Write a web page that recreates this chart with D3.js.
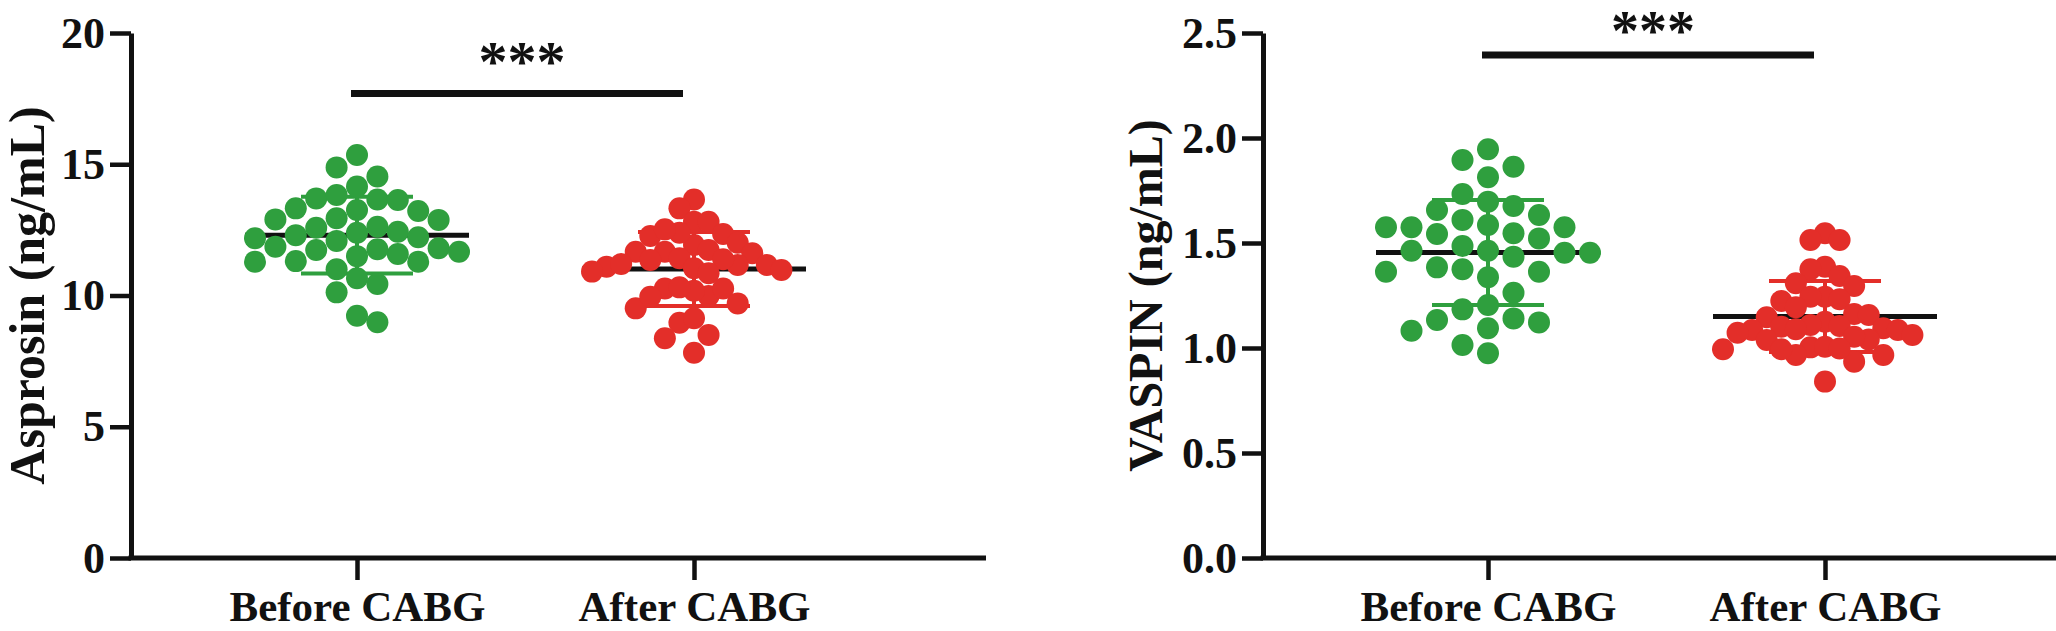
<!DOCTYPE html>
<html>
<head>
<meta charset="utf-8">
<script src="https://cdn.jsdelivr.net/npm/d3@7"></script>
<style>
  html, body { margin: 0; padding: 0; background: #ffffff; }
  svg { display: block; }
  text { font-family: "Liberation Serif", "Times New Roman", serif; font-weight: bold; fill: #111; }
</style>
</head>
<body>
<svg id="chart" width="2056" height="631"></svg>
<script>
// ---------------- data ----------------
const groups = ["Before CABG", "After CABG"];

const asprosinBefore = [15.35, 14.88, 14.53, 14.15, 13.70, 13.83, 13.66, 13.64, 13.32, 13.26,
  13.22, 12.90, 12.94, 12.88, 12.58, 12.62, 12.39, 12.43, 12.30, 12.22,
  12.18, 12.08, 11.86, 11.50, 11.58, 11.76, 11.80, 11.73, 11.67, 11.29,
  11.29, 11.31, 11.00, 10.66, 10.44, 10.12, 8.98, 9.23];
const asprosinAfter = [13.66, 13.32, 12.81, 12.81, 12.34, 12.01, 12.27, 11.92, 12.39, 12.52,
  11.61, 11.67, 11.67, 11.42, 11.16, 11.73, 11.38, 11.10, 11.20, 10.91,
  11.04, 11.35, 10.85, 11.16, 10.97, 10.27, 9.98, 10.27, 10.18, 10.31,
  9.51, 9.70, 9.95, 8.96, 9.13, 8.50, 8.37, 7.82];
const vaspinBefore = [1.946, 1.895, 1.863, 1.813, 1.733, 1.697, 1.676, 1.633, 1.657, 1.575,
  1.610, 1.575, 1.586, 1.543, 1.575, 1.522, 1.546, 1.463, 1.435, 1.454,
  1.486, 1.454, 1.463, 1.384, 1.337, 1.363, 1.363, 1.375, 1.263, 1.184,
  1.141, 1.205, 1.082, 1.133, 1.122, 1.094, 0.975, 1.014];
const vaspinAfter = [1.546, 1.514, 1.514, 1.387, 1.375, 1.343, 1.308, 1.295, 1.224, 1.244,
  1.244, 1.232, 1.194, 1.162, 1.157, 1.125, 1.146, 1.110, 1.086, 1.101,
  1.105, 1.073, 1.094, 1.089, 1.086, 1.062, 1.041, 1.003, 1.038, 1.054,
  0.967, 1.006, 0.935, 0.967, 0.994, 0.994, 0.998, 0.840];

const asprosinMean = [12.30, 11.01];
const asprosinSD = [1.46, 1.41];
const vaspinMean = [1.455, 1.150];
const vaspinSD = [0.25, 0.169];

const asprosinTicks = [0, 5, 10, 15, 20];
const vaspinTicks = [0, 0.5, 1.0, 1.5, 2.0, 2.5];

const significance = ["***", "***"];
const sigLevel = [17.7, 2.395];

const yTitles = ["Asprosin (ng/mL)", "VASPIN (ng/mL)"];
const groupColors = ["#2f9f3e", "#e32e29"];

// ---------------- layout ----------------
const svg = d3.select("#chart");
svg.append("rect").attr("width", 2056).attr("height", 631).attr("fill", "#fff");

const panels = [
  { ox: 131, x1: 357, x2: 694, xEnd: 986, titleX: 44, titleSize: 50, data: [asprosinBefore, asprosinAfter],
    mean: asprosinMean, sd: asprosinSD, ticks: asprosinTicks, domain: [0, 20], fmt: d3.format("d"),
    sig: significance[0], sigY: sigLevel[0], starSize: 58, starGap: 12, title: yTitles[0] },
  { ox: 1263, x1: 1488, x2: 1825, xEnd: 2056, titleX: 1162, titleSize: 48, data: [vaspinBefore, vaspinAfter],
    mean: vaspinMean, sd: vaspinSD, ticks: vaspinTicks, domain: [0, 2.5], fmt: d3.format(".1f"),
    sig: significance[1], sigY: sigLevel[1], starSize: 56, starGap: 5, title: yTitles[1] }
];

const yTop = 33, yBottom = 558;
const R = 11, GAP = 22, HALF = 102, MAXSTEP = 25.5;
const AXIS_W = 5, INK = "#111";

function swarm(values, y) {
  const pts = values.map(v => ({ v, y: y(v), col: 0 }));
  const order = pts.slice().sort((a, b) => a.y - b.y);
  const cols = new Map();
  const fits = (c, p) => (cols.get(c) || []).every(q => Math.abs(q.y - p.y) >= GAP);
  const count = c => (cols.get(c) || []).length;
  for (const p of order) {
    let chosen = null;
    for (let k = 0; chosen === null; k++) {
      const cands = k === 0 ? [0] : (count(-k) <= count(k) ? [-k, k] : [k, -k]);
      for (const c of cands) if (fits(c, p)) { chosen = c; break; }
    }
    p.col = chosen;
    if (!cols.has(chosen)) cols.set(chosen, []);
    cols.get(chosen).push(p);
  }
  const maxAbs = d3.max(pts, p => Math.abs(p.col)) || 1;
  const step = Math.min(MAXSTEP, HALF / maxAbs);
  pts.forEach(p => p.dx = p.col * step);
  return pts;
}

panels.forEach(P => {
  const g = svg.append("g");
  const y = d3.scaleLinear().domain(P.domain).range([yBottom, yTop]);
  const x = d3.scalePoint().domain(groups).range([P.x1, P.x2]);

  // mean and SD (behind dots)
  groups.forEach((grp, i) => {
    const cx = x(grp);
    const m = P.mean[i], s = P.sd[i];
    const col = groupColors[i];
    g.append("line").attr("x1", cx).attr("x2", cx).attr("y1", y(m + s)).attr("y2", y(m - s))
      .attr("stroke", col).attr("stroke-width", 4);
    [m + s, m - s].forEach(v => {
      g.append("line").attr("x1", cx - 56).attr("x2", cx + 56).attr("y1", y(v)).attr("y2", y(v))
        .attr("stroke", col).attr("stroke-width", 4);
    });
    g.append("line").attr("x1", cx - 112).attr("x2", cx + 112).attr("y1", y(m)).attr("y2", y(m))
      .attr("stroke", INK).attr("stroke-width", 5);
  });

  // dots
  groups.forEach((grp, i) => {
    const pts = swarm(P.data[i], y);
    g.append("g").selectAll("circle").data(pts).join("circle")
      .attr("cx", d => x(grp) + d.dx).attr("cy", d => d.y).attr("r", R)
      .attr("fill", groupColors[i]);
  });

  // y axis
  const yAxis = d3.axisLeft(y).tickValues(P.ticks).tickFormat(P.fmt).tickSize(21).tickSizeOuter(0).tickPadding(5);
  const ya = g.append("g").attr("transform", `translate(${P.ox},0)`).call(yAxis);
  ya.select(".domain").attr("stroke", INK).attr("stroke-width", AXIS_W);
  ya.selectAll(".tick line").attr("stroke", INK).attr("stroke-width", 4.5);
  ya.selectAll(".tick text").attr("font-size", 44).attr("font-family", null).attr("fill", INK);

  // x axis baseline
  g.append("line").attr("x1", P.ox - 2.5).attr("x2", P.xEnd).attr("y1", yBottom).attr("y2", yBottom)
    .attr("stroke", INK).attr("stroke-width", AXIS_W);
  const xAxis = d3.axisBottom(x).tickSize(22).tickSizeOuter(0).tickPadding(10);
  const xa = g.append("g").attr("transform", `translate(0,${yBottom})`).call(xAxis);
  xa.select(".domain").remove();
  xa.selectAll(".tick line").attr("stroke", INK).attr("stroke-width", 4.5);
  xa.selectAll(".tick text").attr("font-size", 43).attr("font-family", null).attr("fill", INK);

  // y title
  g.append("text")
    .attr("transform", `translate(${P.titleX},${(yTop + yBottom) / 2}) rotate(-90)`)
    .attr("text-anchor", "middle").attr("font-size", P.titleSize).text(P.title);

  // significance
  const bx1 = x(groups[0]) - 6, bx2 = x(groups[1]) - 11;
  g.append("line").attr("x1", bx1).attr("x2", bx2).attr("y1", y(P.sigY)).attr("y2", y(P.sigY))
    .attr("stroke", INK).attr("stroke-width", 7);
  g.append("text").attr("x", (bx1 + bx2) / 2 + 5).attr("y", y(P.sigY) - P.starGap)
    .attr("text-anchor", "middle").attr("font-size", P.starSize).text(P.sig);
});
</script>
</body>
</html>
